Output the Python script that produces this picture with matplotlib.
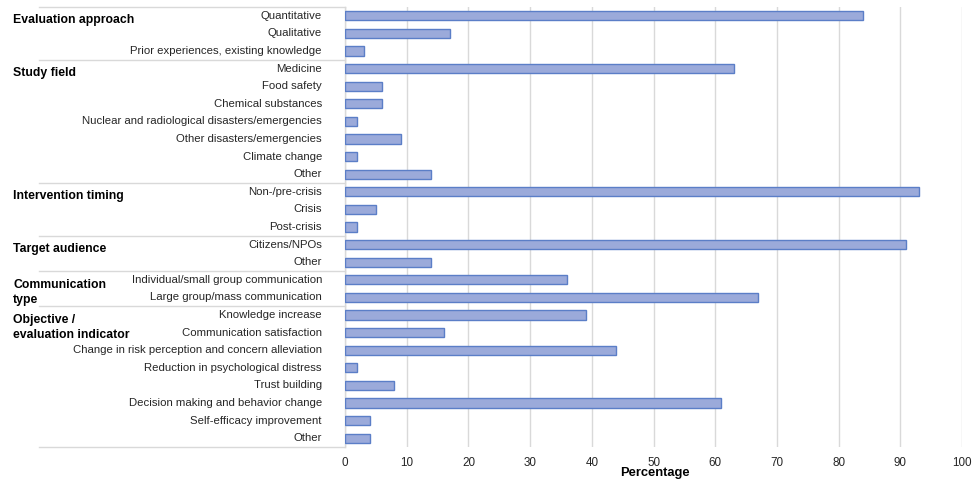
import matplotlib
matplotlib.use("Agg")
import matplotlib.pyplot as plt
import matplotlib.transforms as mtransforms

plt.rcParams['font.family'] = ['Liberation Sans', 'DejaVu Sans']

groups = ["Evaluation approach", "Study field", "Intervention timing",
          "Target audience", "Communication\ntype", "Objective /\nevaluation indicator"]
group_sizes = [3, 7, 3, 2, 2, 8]

categories = [
    "Quantitative", "Qualitative", "Prior experiences, existing knowledge",
    "Medicine", "Food safety", "Chemical substances",
    "Nuclear and radiological disasters/emergencies", "Other disasters/emergencies",
    "Climate change", "Other",
    "Non-/pre-crisis", "Crisis", "Post-crisis",
    "Citizens/NPOs", "Other",
    "Individual/small group communication", "Large group/mass communication",
    "Knowledge increase", "Communication satisfaction",
    "Change in risk perception and concern alleviation",
    "Reduction in psychological distress", "Trust building",
    "Decision making and behavior change", "Self-efficacy improvement", "Other",
]
values = [84, 17, 3,
          63, 6, 6, 2, 9, 2, 14,
          93, 5, 2,
          91, 14,
          36, 67,
          39, 16, 44, 2, 8, 61, 4, 4]
xticks = [0, 10, 20, 30, 40, 50, 60, 70, 80, 90, 100]

W, H = 977, 480
fig = plt.figure(figsize=(W / 100, H / 100), dpi=100)
left, right, top, bottom = 345, 962, 7, 447
ax = fig.add_axes([left / W, 1 - bottom / H, (right - left) / W, (bottom - top) / H])

n = len(categories)
ypos = list(range(n))
ax.barh(ypos, values, height=0.52, color='#9BAADA', edgecolor='#5B7EC7', linewidth=1.0, zorder=3)

ax.set_xlim(0, 100)
ax.set_ylim(n - 0.5, -0.5)
ax.set_xticks(xticks)
ax.set_xticklabels([str(t) for t in xticks])
ax.tick_params(axis='x', length=0, pad=7, labelsize=8.4, labelcolor='#262626')
ax.set_yticks([])
ax.grid(axis='x', color='#D9D9D9', linewidth=1.0, zorder=0)
for s in ['top', 'right', 'bottom']:
    ax.spines[s].set_visible(False)
ax.spines['left'].set_color('#D9D9D9')
ax.spines['left'].set_linewidth(1.0)

trans = mtransforms.blended_transform_factory(ax.transAxes, ax.transData)
x_sep = (39 - left) / (right - left)
x_lab = (322 - left) / (right - left)
x_grp = (13 - left) / (right - left)

for i, c in enumerate(categories):
    ax.text(x_lab, i, c, transform=trans, ha='right', va='center', fontsize=8.2,
            color='#262626', clip_on=False)

start = 0
bounds = [-0.5]
for g, sz in zip(groups, group_sizes):
    nlines = g.count("\n") + 1
    yc = start + 0.24 + (0.46 if nlines == 2 else 0)
    ax.text(x_grp, yc, g, transform=trans, ha='left', va='center', fontsize=8.8,
            fontweight='bold', color='black', linespacing=1.35, clip_on=False)
    start += sz
    bounds.append(start - 0.5)

for b in bounds:
    ax.plot([x_sep, 0], [b, b], transform=trans, color='#D9D9D9', linewidth=1.0, clip_on=False)

fig.text(655 / W, 1 - 473 / H, "Percentage", ha='center', va='center', fontsize=9.3,
         fontweight='bold', color='black')

fig.savefig("out.png", dpi=100, facecolor='white')
